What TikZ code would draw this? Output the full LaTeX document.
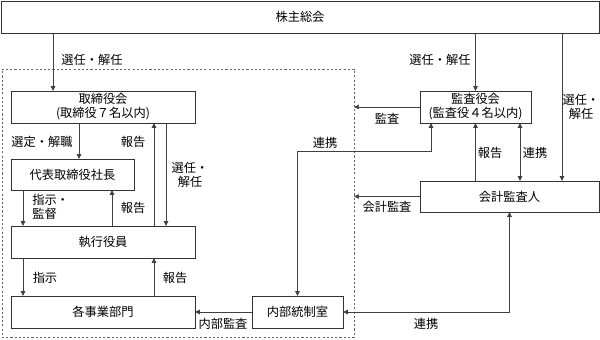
\documentclass[tikz,border=0pt]{standalone}
\usepackage{fontspec}
\setmainfont{Noto Sans CJK JP}
\usetikzlibrary{arrows.meta}

\tikzset{
  box/.style={draw=black!80, line width=0.5pt, inner sep=0pt, outer sep=0pt, align=center},
  lbl/.style={inner sep=0pt, align=center},
  arr/.style={draw=black!75, line width=0.5pt, -{Triangle[length=3.5pt,width=3.2pt]}},
  dbl/.style={arr, {Triangle[length=3.5pt,width=3.2pt]}-{Triangle[length=3.5pt,width=3.2pt]}},
}

\begin{document}
\begin{tikzpicture}[x=0.025cm, y=-0.025cm, font=\fontsize{8.7pt}{10pt}\selectfont]
  \useasboundingbox (0,0) rectangle (600,340);
  % boxes
  \node[box, minimum width=14.95cm, minimum height=0.8cm] (kabu) at (300,17) {株主総会};
  \node[box, draw=black!60, dash pattern=on 1.5pt off 1.5pt, minimum width=8.8cm, minimum height=6.7cm] (gyoumu) at (178,203) {};
  \node[box, minimum width=4.6cm, minimum height=0.8cm] (torishimari) at (103,107) {取締役会\\(取締役７名以内)};
  \node[box, minimum width=3.075cm, minimum height=0.775cm] (daihyo) at (72.5,174.5) {代表取締役社長};
  \node[box, minimum width=4.6cm, minimum height=0.8cm] (shikkou) at (103,242) {執行役員};
  \node[box, minimum width=4.6cm, minimum height=0.8cm] (jigyou) at (103,312) {各事業部門};
  \node[box, minimum width=2.275cm, minimum height=0.8cm] (naibu) at (297.5,312) {内部統制室};
  \node[box, minimum width=2.775cm, minimum height=0.8cm] (kansayaku) at (475.5,107) {監査役会\\(監査役４名以内)};
  \node[box, minimum width=4.475cm, minimum height=0.775cm] (kaikei) at (509.5,196.5) {会計監査人};

  % x positions of the connectors
  \coordinate (kabuL) at (53,0);
  \coordinate (kabuR) at (562,0);
  \coordinate (sentei) at (79,0);
  \coordinate (shiji) at (23,0);
  \coordinate (hokoku1) at (154,0);
  \coordinate (hokoku2) at (112,0);
  \coordinate (senin) at (166,0);
  \coordinate (renkeiA) at (520,0);
  \coordinate (renkei) at (431,151);

  % connectors
  \draw[arr] (kabu.south -| kabuL) -- (torishimari.north -| kabuL);
  \draw[arr] (kabu.south -| kansayaku.north) -- (kansayaku.north);
  \draw[arr] (kabu.south -| kabuR) -- (kaikei.north -| kabuR);
  \draw[arr] (torishimari.south -| sentei) -- (daihyo.north -| sentei);
  \draw[arr] (shikkou.north -| hokoku1) -- (torishimari.south -| hokoku1);
  \draw[arr] (torishimari.south -| senin) -- (shikkou.north -| senin);
  \draw[arr] (daihyo.south -| shiji) -- (shikkou.north -| shiji);
  \draw[arr] (shikkou.north -| hokoku2) -- (daihyo.south -| hokoku2);
  \draw[arr] (shikkou.south -| shiji) -- (jigyou.north -| shiji);
  \draw[arr] (jigyou.north -| hokoku1) -- (shikkou.south -| hokoku1);
  \draw[arr] (naibu.west) -- (jigyou.east);
  \draw[arr] (kansayaku.west) -- (kansayaku.west -| gyoumu.east);
  \draw[arr] (kaikei.west) -- (kaikei.west -| gyoumu.east);
  \draw[dbl] (kansayaku.south -| renkei) -- (renkei) -| (naibu.north);
  \draw[arr] (kaikei.north -| kansayaku.south) -- (kansayaku.south);
  \draw[dbl] (kansayaku.south -| renkeiA) -- (kaikei.north -| renkeiA);
  \draw[dbl] (kaikei.south) |- (naibu.east);

  % labels
  \node[lbl] (l1) at (92,60) {選任・解任};
  \node[lbl] (l2) at (440,60) {選任・解任};
  \node[lbl] (l3) at (581,107) {選任・\\解任};
  \node[lbl] (l4) at (42,142) {選定・解職};
  \node[lbl] (l5) at (133,142) {報告};
  \node[lbl] (l6) at (190,175) {選任・\\解任};
  \node[lbl, align=left, anchor=west] (l7) at (32,207) {指示・\\監督};
  \node[lbl] (l8) at (133,208) {報告};
  \node[lbl] (l9) at (45,278) {指示};
  \node[lbl] (l10) at (175,278) {報告};
  \node[lbl] (l11) at (223,324) {内部監査};
  \node[lbl] (l12) at (387,119) {監査};
  \node[lbl] (l13) at (387,207) {会計監査};
  \node[lbl] (l14) at (325,143) {連携};
  \node[lbl] (l15) at (490,153) {報告};
  \node[lbl] (l16) at (535,153) {連携};
  \node[lbl] (l17) at (426,324) {連携};
\end{tikzpicture}
\end{document}
